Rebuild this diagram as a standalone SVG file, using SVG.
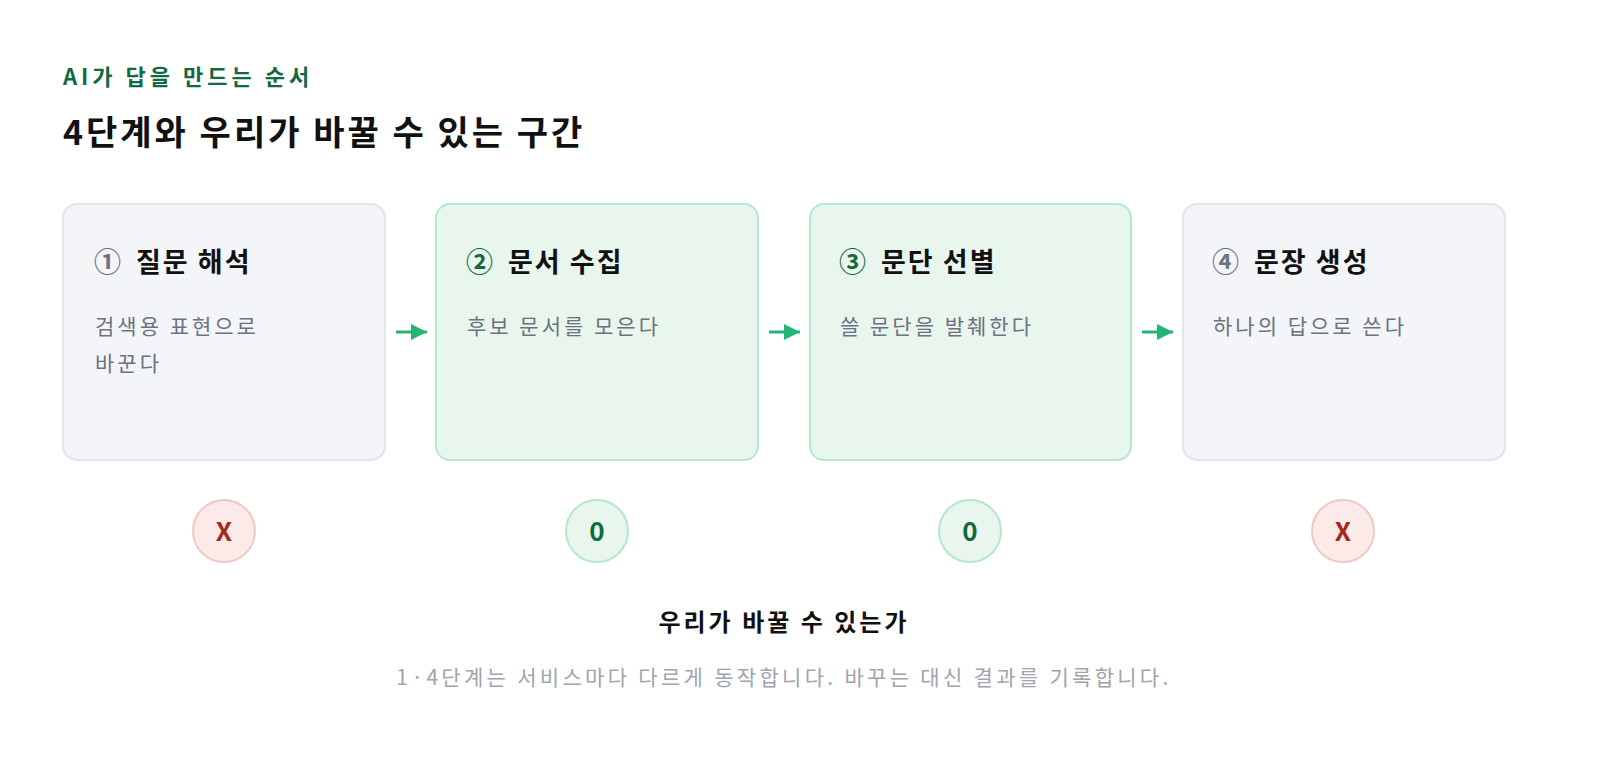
<svg xmlns="http://www.w3.org/2000/svg" width="1600" height="764" viewBox="0 0 1600 764">
<style>
text{font-family:"Noto Sans CJK KR","Noto Sans",sans-serif}
.g{fill:#f4f5f9;stroke:#e3e5ea;stroke-width:2}
.k{fill:#e8f6ee;stroke:#b3e8cc;stroke-width:2}
.t{font-size:27px;font-weight:700;fill:#111;letter-spacing:2px}
.n{font-size:27px;font-weight:700}
.ng{fill:#6b7280}.nk{fill:#13693f}
.d{font-size:21px;fill:#6b7280;letter-spacing:3px}
.cx{fill:#fbeae8;stroke:#f0c9c2;stroke-width:2}
.co{fill:#e8f6ee;stroke:#b3e8cc;stroke-width:2}
.m{font-size:26px;font-weight:700;text-anchor:middle}
</style>
<defs><marker id="ah" viewBox="0 0 10 10" refX="10" refY="5" markerWidth="16" markerHeight="16" orient="auto" markerUnits="userSpaceOnUse"><path d="M0,0L10,5L0,10z" fill="#22b573"/></marker></defs>
<rect width="1600" height="764" fill="#fff"/>
<text x="63" y="85" font-size="22" font-weight="700" fill="#13693f" letter-spacing="4">AI가 답을 만드는 순서</text>
<text x="63" y="145" font-size="34" font-weight="700" fill="#111" letter-spacing="3">4단계와 우리가 바꿀 수 있는 구간</text>
<g id="n1"><rect class="g" x="63" y="204" width="322" height="256" rx="14"/><text class="n ng" x="94" y="272">①</text><text class="t" x="136" y="272">질문 해석</text><text class="d" x="95" y="334">검색용 표현으로</text><text class="d" x="95" y="371">바꾼다</text></g>
<g id="n2"><rect class="k" x="436" y="204" width="322" height="256" rx="14"/><text class="n nk" x="466" y="272">②</text><text class="t" x="508" y="272">문서 수집</text><text class="d" x="467" y="334">후보 문서를 모은다</text></g>
<g id="n3"><rect class="k" x="810" y="204" width="321" height="256" rx="14"/><text class="n nk" x="839" y="272">③</text><text class="t" x="881" y="272">문단 선별</text><text class="d" x="840" y="334">쓸 문단을 발췌한다</text></g>
<g id="n4"><rect class="g" x="1183" y="204" width="322" height="256" rx="14"/><text class="n ng" x="1212" y="272">④</text><text class="t" x="1254" y="272">문장 생성</text><text class="d" x="1213" y="334">하나의 답으로 쓴다</text></g>
<g id="connectors" stroke="#22b573" stroke-width="3">
<line x1="396" y1="332" x2="427" y2="332" marker-end="url(#ah)"/>
<line x1="769" y1="332" x2="800" y2="332" marker-end="url(#ah)"/>
<line x1="1142" y1="332" x2="1173" y2="332" marker-end="url(#ah)"/>
</g>
<g id="m1"><circle class="cx" cx="224" cy="531" r="31"/><text class="m" x="224" y="541" fill="#a3281c">X</text></g>
<g id="m2"><circle class="co" cx="597" cy="531" r="31"/><text class="m" x="597" y="541" fill="#13693f">0</text></g>
<g id="m3"><circle class="co" cx="970" cy="531" r="31"/><text class="m" x="970" y="541" fill="#13693f">0</text></g>
<g id="m4"><circle class="cx" cx="1343" cy="531" r="31"/><text class="m" x="1343" y="541" fill="#a3281c">X</text></g>
<text x="784" y="631" font-size="24" font-weight="700" fill="#111" text-anchor="middle" letter-spacing="3">우리가 바꿀 수 있는가</text>
<text x="784" y="685" font-size="21" fill="#a0a4ad" text-anchor="middle" letter-spacing="3.3">1·4단계는 서비스마다 다르게 동작합니다. 바꾸는 대신 결과를 기록합니다.</text>
</svg>
